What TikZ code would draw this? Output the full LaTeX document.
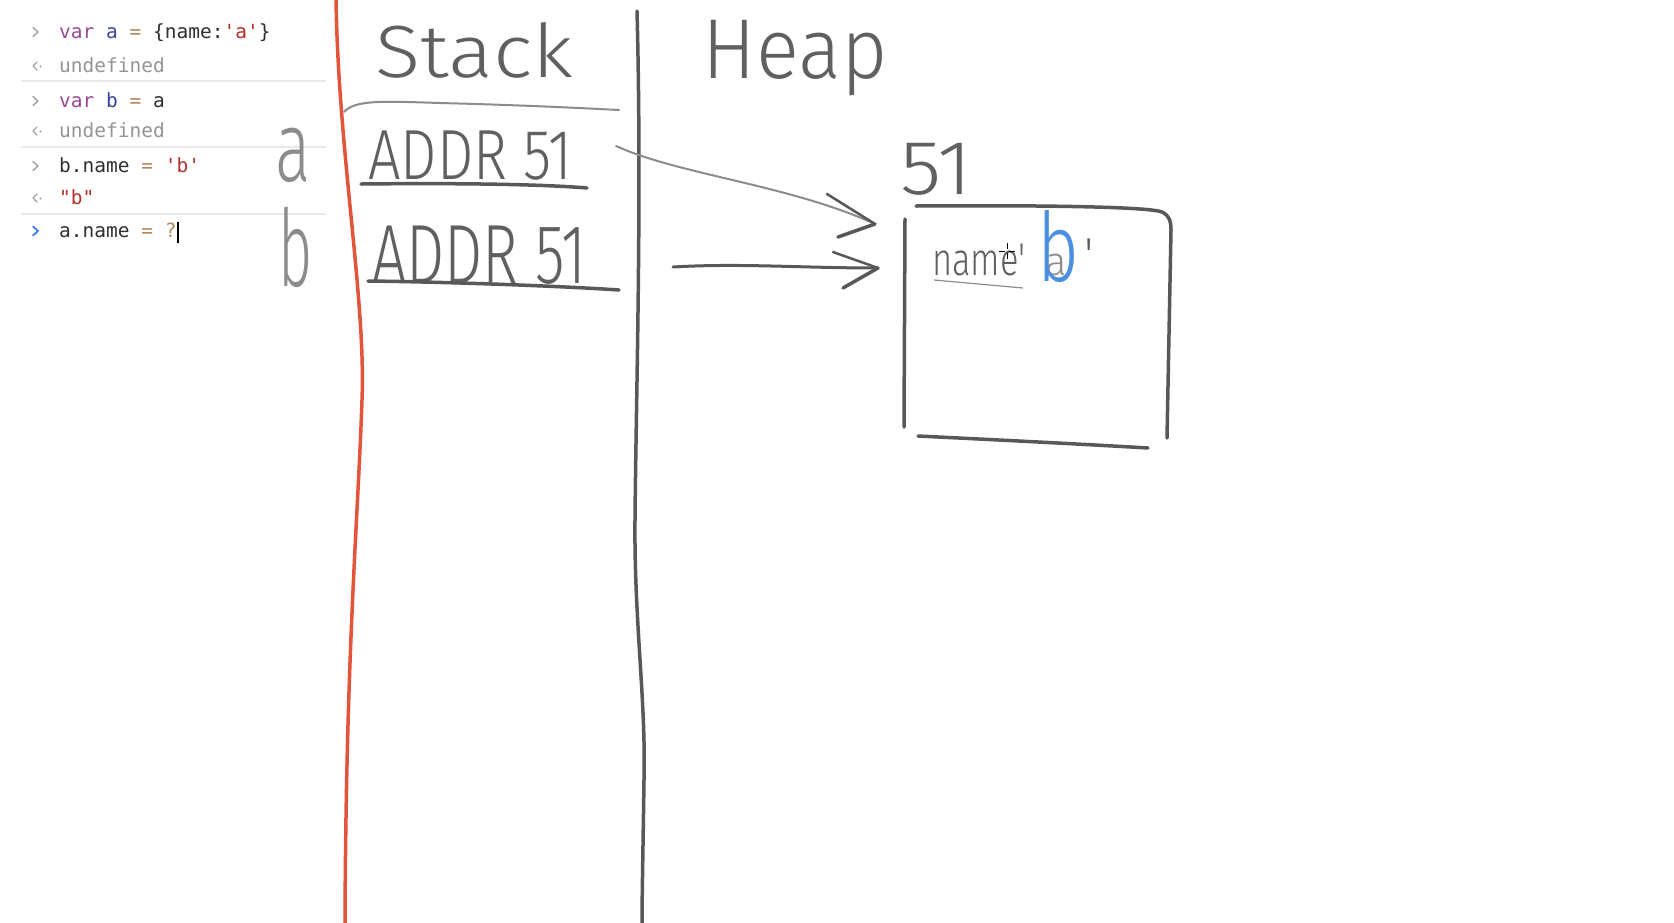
\documentclass[tikz,border=0pt]{standalone}
\usepackage{fontspec}
\usepackage{graphicx}
\setmonofont{DejaVu Sans Mono}
\newfontfamily\hand{Fira Sans}[UprightFont={* Light}]
\definecolor{kw}{HTML}{9A4A94}
\definecolor{vr}{HTML}{3A44A0}
\definecolor{op}{HTML}{B08A5A}
\definecolor{str}{HTML}{B3302C}
\definecolor{txt}{HTML}{303030}
\definecolor{undef}{HTML}{959595}
\definecolor{promptgray}{HTML}{A0A0A0}
\definecolor{promptblue}{HTML}{3F7FE6}
\definecolor{sepgray}{HTML}{E8E8E8}
\definecolor{inkgray}{HTML}{585858}
\definecolor{handgray}{HTML}{606060}
\definecolor{lightink}{HTML}{8C8C8C}
\definecolor{redink}{HTML}{E2553B}
\definecolor{blueink}{HTML}{4A8FE0}
\begin{document}
\begin{tikzpicture}[x=1pt,y=-1pt,
  con/.style={anchor=base west,inner sep=0pt,text=txt,font=\ttfamily\fontsize{19.5}{23}\selectfont},
  sep/.style={draw=sepgray,line width=1.2pt},
  prm/.style={draw=promptgray,line width=1.4pt,line cap=round,line join=round},
  ink/.style={draw=inkgray,line width=3.5pt,line cap=round,line join=round},
  thinink/.style={draw=lightink,line width=2pt,line cap=round,line join=round},
  hw/.style={inner sep=0pt,text=handgray,font=\hand},
]
\fill[white] (0,0) rectangle (1674,922);
\useasboundingbox (0,0) rectangle (1674,922);

% console
\node[con] (l1) at (59,38) {\color{kw}var \color{vr}a \color{op}= \color{txt}\{name:\color{str}'a'\color{txt}\}};
\node[con,text=undef] (l2) at (59,72) {undefined};
\node[con] (l3) at (59,107) {\color{kw}var \color{vr}b \color{op}= \color{txt}a};
\node[con,text=undef] (l4) at (59,137) {undefined};
\node[con] (l5) at (59,172) {b.name \color{op}= \color{str}'b'};
\node[con,text=str] (l6) at (59,204) {"b"};
\node[con] (l7) at (59,237) {a.name \color{op}= ?};
\draw[black,line width=1.6pt] (178,222) -- (178,243);

\foreach \cy in {32,101,166} {
  \draw[prm] (33,\cy-4.5) -- (38,\cy) -- (33,\cy+4.5);
}
\foreach \cy in {66,131,198} {
  \draw[prm] (37,\cy-4) -- (33,\cy) -- (37,\cy+4);
  \fill[promptgray] (40.5,\cy+0.5) circle (1.1);
}
\draw[prm,draw=promptblue,line width=1.8pt] (33,231-4.5) -- (38,231) -- (33,231+4.5);

\draw[sep] (21,81) -- (326,81);
\draw[sep] (21,147) -- (326,147);
\draw[sep] (21,214) -- (326,214);

% red and dark vertical lines
\draw[draw=redink,line width=3.5pt,line cap=round] (336,-2) .. controls (338,150) and (366,300) .. (362,400) .. controls (358,520) and (346,650) .. (345,924);
\draw[ink] (637,11) .. controls (642,200) and (636,400) .. (635,520) .. controls (634,620) and (646,700) .. (644,780) .. controls (643,850) and (642,900) .. (642,924);

% stack side
\node[hw,anchor=base] (stack) at (474,77) {\fontsize{74}{74}\selectfont\scalebox{1.13}[1]{Stack}};
\draw[thinink] (344,112) .. controls (355,100) and (380,101) .. (440,103) .. controls (520,105) and (580,108) .. (619,110);

\node[hw,text=lightink,anchor=base] (la) at (293,181) {\fontsize{100}{100}\selectfont\scalebox{0.66}[1]{a}};
\node[hw,text=lightink,anchor=base] (lb) at (296,286) {\fontsize{107}{107}\selectfont\scalebox{0.55}[1]{b}};

\node[hw,anchor=base west] (addra) at (368,179) {\fontsize{71}{71}\selectfont\scalebox{0.81}[1]{ADDR 51}};
\draw[ink] (361,184) .. controls (450,183) and (540,184) .. (587,188);
\node[hw,anchor=base west] (addrb) at (372,283) {\fontsize{84}{84}\selectfont\scalebox{0.72}[1]{ADDR 51}};
\draw[ink] (368,281) .. controls (450,282) and (560,286) .. (619,290);

% heap side
\node[hw,anchor=base] (heap) at (795,78) {\fontsize{85}{85}\selectfont\scalebox{0.94}[1]{Heap}};
\node[hw,anchor=base west] (n51) at (900,194) {\fontsize{77}{77}\selectfont\scalebox{1.1}[1]{51}};

\draw[ink] (905,219) -- (904,427);
\draw[ink] (916,206) .. controls (1050,205) and (1150,207) .. (1162,212) .. controls (1170,216) and (1171,222) .. (1171,230) -- (1167,438);
\draw[ink] (918,436) .. controls (1000,440) and (1080,444) .. (1148,448);

\node[hw,anchor=base west] (nm) at (932,275) {\fontsize{46}{46}\selectfont\scalebox{0.75}[1]{name'}};
\node[hw,text=lightink,anchor=base] (oa) at (1056,275) {\fontsize{40}{40}\selectfont a};
\node[hw,anchor=base] (cq) at (1089,270) {\fontsize{46}{46}\selectfont '};
\node[inner sep=0pt,anchor=base,text=blueink,font=\hand] (bb) at (1058,281) {\fontsize{96}{96}\selectfont\scalebox{0.75}[1]{b}};
\draw[draw=lightink,line width=1.2pt] (934,280) -- (1023,288);
\draw[black,line width=0.8pt] (999,251) -- (1005,251) (1009,251) -- (1015,251) (1007,243) -- (1007,249) (1007,253) -- (1007,259);

% arrows
\coordinate (a1s) at (616,146);
\coordinate (a1t) at (875,224);
\draw[thinink] (a1s) .. controls (680,175) and (790,185) .. (a1t);
\draw[ink,line width=2.5pt] (827,194) -- (a1t);
\draw[ink] (a1t) -- (838,237);
\coordinate (a2s) at (673,267);
\coordinate (a2t) at (878,268);
\draw[ink,line width=3pt] (a2s) .. controls (740,263) and (800,268) .. (a2t);
\draw[ink,line width=2.5pt] (833,252) -- (a2t);
\draw[ink] (a2t) -- (843,288);
\end{tikzpicture}
\end{document}
